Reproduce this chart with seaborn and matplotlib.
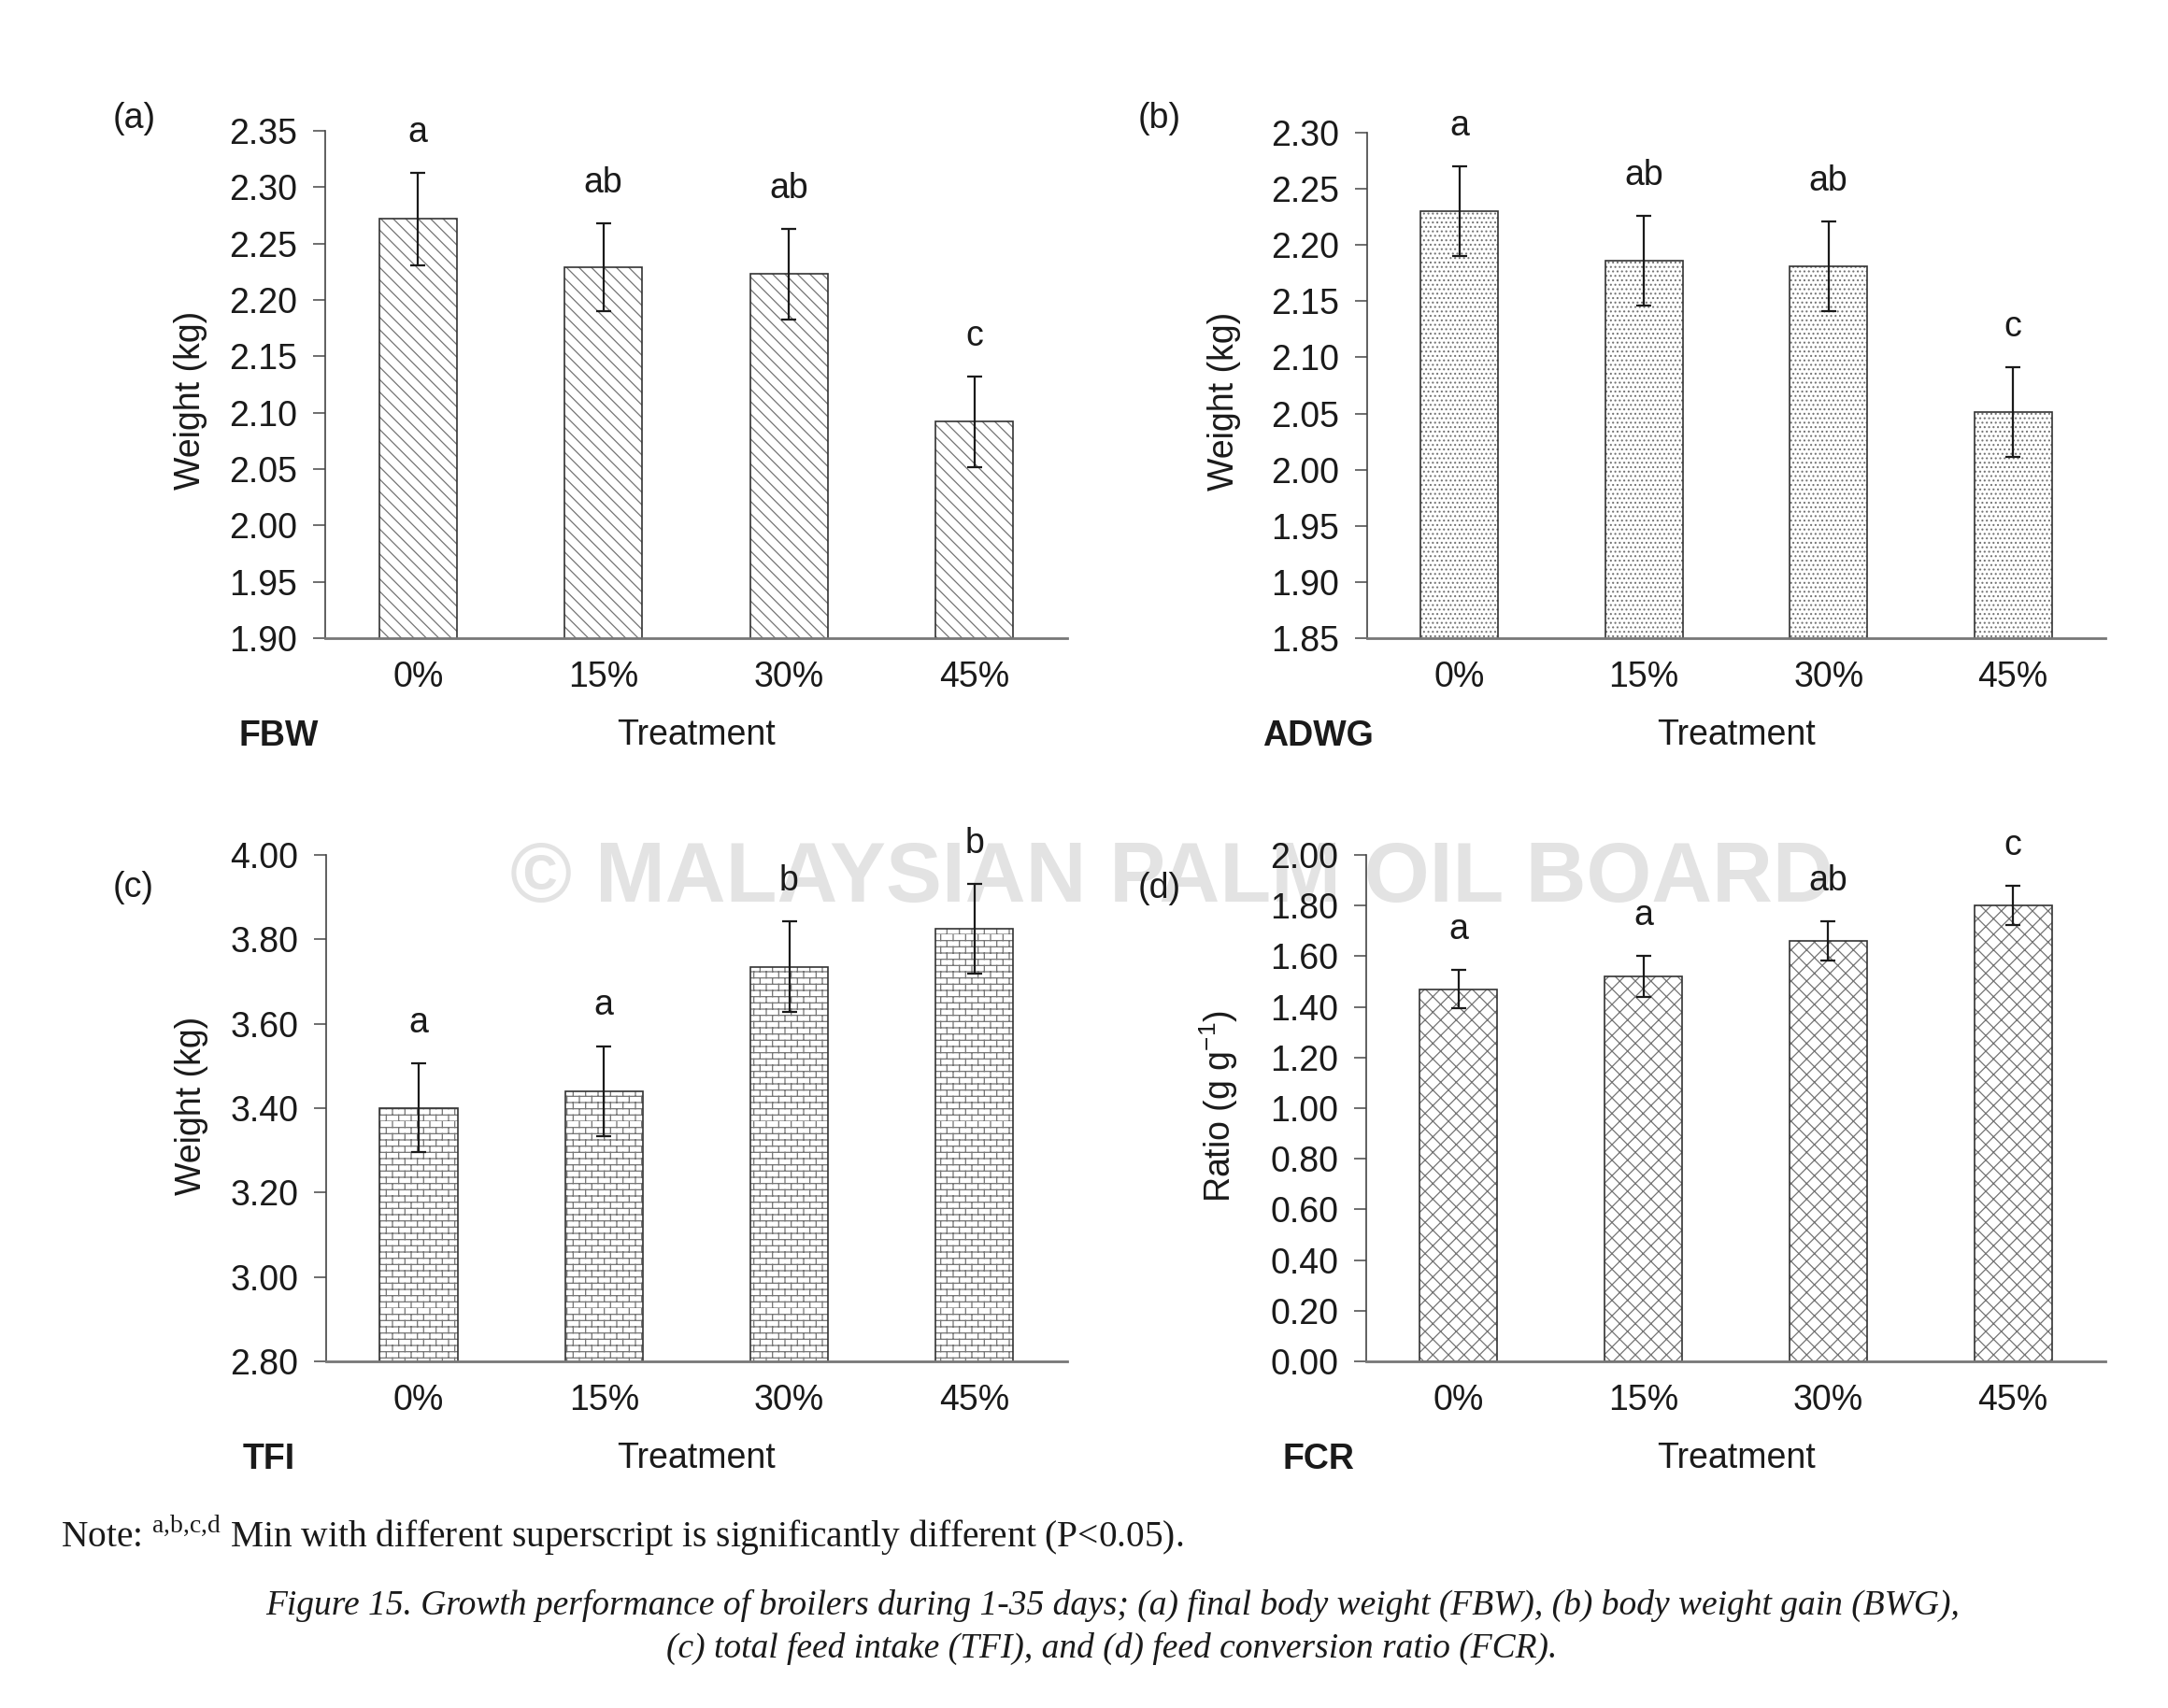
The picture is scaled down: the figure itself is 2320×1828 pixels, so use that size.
import warnings
import numpy as np
import matplotlib
matplotlib.use('Agg')
import matplotlib.pyplot as plt
import matplotlib.hatch as mhatch
import matplotlib.colors as mcolors
from matplotlib.path import Path
import seaborn as sns

warnings.filterwarnings('ignore')

treatments = ['0%', '15%', '30%', '45%']

fbw = [2.272, 2.229, 2.223, 2.092]
fbw_err = [0.041, 0.039, 0.040, 0.040]
fbw_sig = ['a', 'ab', 'ab', 'c']

adwg = [2.230, 2.186, 2.181, 2.051]
adwg_err = [0.040, 0.040, 0.040, 0.040]
adwg_sig = ['a', 'ab', 'ab', 'c']

tfi = [3.40, 3.44, 3.735, 3.825]
tfi_err = [0.105, 0.107, 0.108, 0.107]
tfi_sig = ['a', 'a', 'b', 'b']

fcr = [1.47, 1.52, 1.66, 1.80]
fcr_err = [0.075, 0.08, 0.078, 0.078]
fcr_sig = ['a', 'a', 'ab', 'c']


# brick pattern for the TFI bars ('B' in the hatch string)
class BrickHatch(mhatch.HatchPatternBase):
    def __init__(self, hatch, density):
        self.rows = hatch.count('B') * density
        self.cols = self.rows // 2
        self.num_vertices = (self.rows + self.rows * self.cols) * 2

    def set_vertices_and_codes(self, vertices, codes):
        i = 0
        step = 1.0 / self.rows
        w = 1.0 / self.cols
        for r in range(self.rows):
            y = r * step
            vertices[i] = (0, y)
            vertices[i + 1] = (1, y)
            codes[i] = Path.MOVETO
            codes[i + 1] = Path.LINETO
            i += 2
            off = (w / 2) * (r % 2)
            for c in range(self.cols):
                x = c * w + off
                vertices[i] = (x, y)
                vertices[i + 1] = (x, y + step)
                codes[i] = Path.MOVETO
                codes[i + 1] = Path.LINETO
                i += 2


mhatch._hatch_types.append(BrickHatch)

sns.set_theme(style='white')
plt.rcParams['font.family'] = ['Liberation Sans', 'DejaVu Sans']
plt.rcParams['mathtext.fontset'] = 'custom'
plt.rcParams['mathtext.rm'] = 'Liberation Serif'
plt.rcParams['mathtext.sf'] = 'Liberation Sans'
plt.rcParams['hatch.linewidth'] = 0.45

fig = plt.figure(figsize=(11.6, 9.14), dpi=200)
fig.patch.set_facecolor('white')

panels = [
    dict(vals=fbw, err=fbw_err, sig=fbw_sig, ylim=(1.90, 2.35), step=0.05,
         hatch='\\\\\\\\\\', ylabel='Weight (kg)', tag='(a)', name='FBW',
         rect=[0.1500, 0.6264, 0.3422, 0.2970], ylx=-0.159, yly=0.468),
    dict(vals=adwg, err=adwg_err, sig=adwg_sig, ylim=(1.85, 2.30), step=0.05,
         hatch='.......', ylabel='Weight (kg)', tag='(b)', name='ADWG',
         rect=[0.6306, 0.6264, 0.3405, 0.2959], ylx=-0.171, yly=0.468),
    dict(vals=tfi, err=tfi_err, sig=tfi_sig, ylim=(2.80, 4.00), step=0.20,
         hatch='BBBBB', ylabel='Weight (kg)', tag='(c)', name='TFI',
         rect=[0.1504, 0.2030, 0.3418, 0.2965], ylx=-0.159, yly=0.504),
    dict(vals=fcr, err=fcr_err, sig=fcr_sig, ylim=(0.0, 2.0), step=0.20,
         hatch='xxxx', ylabel=r'Ratio (g g$^{\mathsf{-1}}$)', tag='(d)', name='FCR',
         rect=[0.6302, 0.2030, 0.3409, 0.2965], ylx=-0.171, yly=0.504),
]

tag_pos = [(0.052, 0.9305), (0.525, 0.9305), (0.052, 0.4803), (0.525, 0.4797)]
name_pos = [(0.1103, 0.5637), (0.5823, 0.5637), (0.1121, 0.1403), (0.5914, 0.1403)]

for p, tp, nps in zip(panels, tag_pos, name_pos):
    ax = fig.add_axes(p['rect'])
    ax.set_facecolor('none')
    sns.barplot(x=treatments, y=p['vals'], ax=ax, width=0.42, color='white',
                edgecolor='#333333', linewidth=0.6, hatch=p['hatch'],
                errorbar=None, saturation=1)
    for bar in ax.patches:
        bar._hatch_color = mcolors.to_rgba('#747474')
    xc = [bar.get_x() + bar.get_width() / 2 for bar in ax.patches]
    ax.errorbar(xc, p['vals'], yerr=p['err'], fmt='none', ecolor='#1a1a1a',
                elinewidth=0.8, capsize=3, capthick=0.8, zorder=5)
    for x, v, e, s in zip(xc, p['vals'], p['err'], p['sig']):
        ax.annotate(s, (x, v + e), xytext=(0, 15.5), textcoords='offset points',
                    ha='center', va='center', fontsize=13.5, color='#1a1a1a')

    lo, hi = p['ylim']
    yt = np.round(np.arange(lo, hi + p['step'] / 2, p['step']), 2)
    ax.set_ylim(lo, hi)
    ax.set_yticks(yt)
    ax.set_yticklabels([f'{t:.2f}' for t in yt])
    ax.set_xlim(-0.5, 3.5)

    for side in ['top', 'right']:
        ax.spines[side].set_visible(False)
    ax.spines['left'].set_color('#444444')
    ax.spines['left'].set_linewidth(0.6)
    ax.spines['bottom'].set_color('#777777')
    ax.spines['bottom'].set_linewidth(1.0)

    ax.tick_params(axis='y', direction='out', length=4.7, width=0.6, color='#555555',
                   pad=6, labelsize=13.5, labelcolor='#1a1a1a', left=True)
    ax.tick_params(axis='x', length=0, pad=8.6, labelsize=13.5, labelcolor='#1a1a1a')

    ax.set_ylabel(p['ylabel'], fontsize=13.5, color='#1a1a1a')
    ax.yaxis.set_label_coords(p['ylx'], p['yly'])
    ax.set_xlabel('Treatment', fontsize=13.5, color='#1a1a1a')
    ax.xaxis.set_label_coords(0.5, -0.159)

    fig.text(tp[0], tp[1], p['tag'], fontsize=13.5, va='center', ha='left', color='#1a1a1a')
    fig.text(nps[0], nps[1], p['name'], fontsize=13.5, fontweight='bold',
             va='baseline', ha='left', color='#1a1a1a')

# watermark
fig.text(0.5405, 0.4852, '\u00a9 MALAYSIAN PALM OIL BOARD', fontsize=32.3,
         fontweight='bold', color='#e3e3e3', ha='center', va='center', zorder=-1)

fig.text(0.028, 0.1018,
         r'Note: $^{\mathrm{a{,}b{,}c{,}d}}$ Min with different superscript is significantly different (P<0.05).',
         fontsize=14.2, family='Liberation Serif', va='center', ha='left', color='#1a1a1a')

fig.text(0.513, 0.0602,
         'Figure 15. Growth performance of broilers during 1-35 days; (a) final body weight (FBW), '
         '(b) body weight gain (BWG),',
         fontsize=13.5, family='Liberation Serif', style='italic', ha='center', va='center',
         color='#1a1a1a')
fig.text(0.513, 0.035,
         '(c) total feed intake (TFI), and (d) feed conversion ratio (FCR).',
         fontsize=13.5, family='Liberation Serif', style='italic', ha='center', va='center',
         color='#1a1a1a')

fig.savefig('out.png', dpi=200, facecolor='white')
